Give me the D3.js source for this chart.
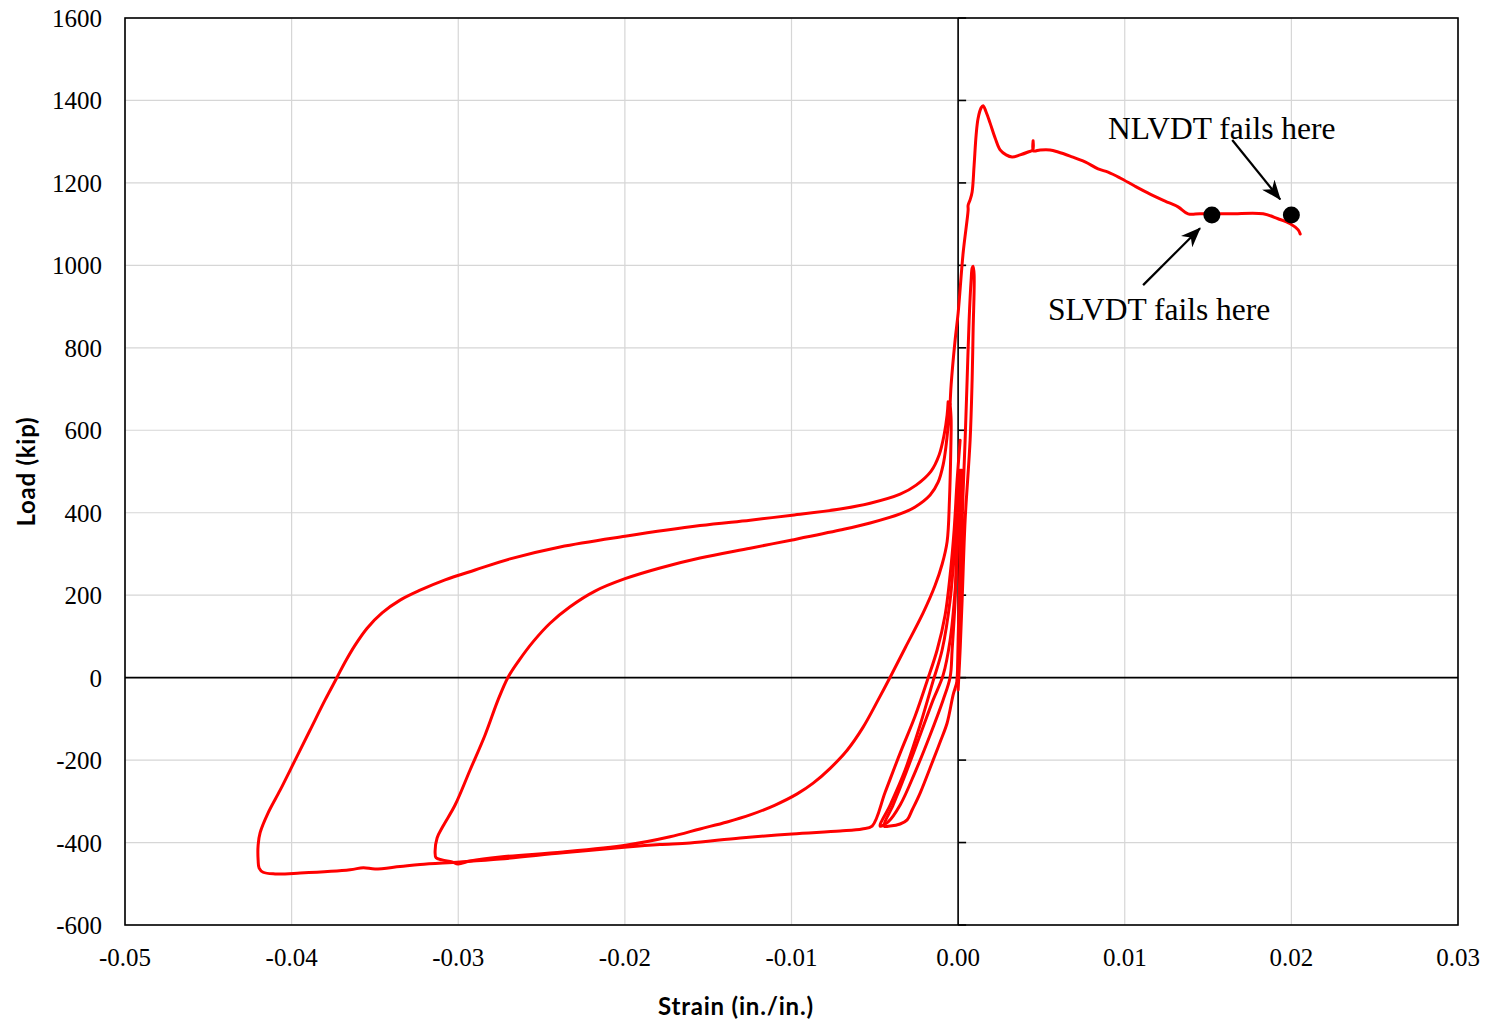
<!DOCTYPE html>
<html>
<head>
<meta charset="utf-8">
<script src="https://cdn.jsdelivr.net/npm/d3@7"></script>
<style>
  html, body { margin: 0; padding: 0; background: #fff; }
  svg { display: block; }
</style>
</head>
<body>
<svg id="chart" width="1489" height="1025"></svg>
<script>
// ---------------- DATA: [strain (in./in.), load (kip)] ----------------
const xTicks = [-0.05, -0.04, -0.03, -0.02, -0.01, 0.00, 0.01, 0.02, 0.03];
const yTicks = [-600, -400, -200, 0, 200, 400, 600, 800, 1000, 1200, 1400, 1600];

const loopA = [
  [-0.0006, 669], [-0.00066, 637], [-0.00084, 589], [-0.00114, 540], [-0.00162, 501],
  [-0.00252, 467], [-0.00348, 445], [-0.00528, 423], [-0.00708, 409], [-0.00996, 394],
  [-0.01248, 382], [-0.01549, 369], [-0.01999, 343], [-0.02389, 317], [-0.02689, 288],
  [-0.02899, 261], [-0.03079, 237], [-0.03229, 212], [-0.03349, 188], [-0.03457, 157],
  [-0.03547, 120], [-0.03619, 79], [-0.03679, 38], [-0.03727, 1], [-0.03799, -54],
  [-0.03889, -127], [-0.03979, -200], [-0.04069, -273], [-0.04141, -328], [-0.04189, -376],
  [-0.04201, -406], [-0.04201, -443], [-0.04195, -462], [-0.04171, -472], [-0.04099, -476],
  [-0.03949, -474], [-0.03649, -466], [-0.0357, -461], [-0.03499, -464], [-0.03349, -458],
  [-0.03229, -453], [-0.02989, -447], [-0.02749, -440], [-0.02371, -425], [-0.01987, -411],
  [-0.0179, -405], [-0.01609, -401], [-0.01308, -389], [-0.00996, -379], [-0.00708, -372],
  [-0.00576, -367], [-0.00516, -360], [-0.00438, -278], [-0.00348, -183], [-0.00258, -93],
  [-0.00186, -8], [-0.00126, 67], [-0.00078, 152], [-0.00048, 249], [-0.00024, 358],
  [-0.00006, 479], [0.00012, 576]
];

const loopB = [
  [-0.00054, 663], [-0.0006, 613], [-0.00072, 564], [-0.0009, 516], [-0.0012, 474],
  [-0.00168, 443], [-0.00258, 414], [-0.00348, 397], [-0.00528, 375], [-0.00708, 358],
  [-0.00996, 334], [-0.01248, 314], [-0.01549, 290], [-0.01789, 266], [-0.01999, 240],
  [-0.02179, 210], [-0.02329, 172], [-0.02449, 132], [-0.02549, 88], [-0.02635, 42],
  [-0.02701, 1], [-0.02761, -54], [-0.02839, -139], [-0.02929, -224], [-0.03019, -309],
  [-0.03091, -360], [-0.03127, -389], [-0.03139, -423], [-0.03133, -437], [-0.03097, -442],
  [-0.03037, -447], [-0.03001, -452], [-0.02929, -445], [-0.02749, -435], [-0.02371, -423],
  [-0.01987, -406], [-0.01729, -386], [-0.01549, -367], [-0.01386, -350], [-0.01248, -333],
  [-0.01098, -309], [-0.00966, -282], [-0.0087, -256], [-0.00768, -220], [-0.00666, -176],
  [-0.0057, -120], [-0.0048, -54], [-0.00408, 1], [-0.00318, 72], [-0.0021, 157],
  [-0.00138, 224], [-0.00096, 275], [-0.00066, 330], [-0.00052, 431], [-0.00044, 552],
  [-0.00042, 625], [-0.00048, 663]
];

const envelope = [
  [-0.00048, 663], [-0.00042, 710], [-0.00018, 819], [0.0, 884], [0.0003, 1030],
  [0.0006, 1134], [0.0006, 1146], [0.00072, 1159], [0.00084, 1178], [0.00096, 1243],
  [0.00108, 1316], [0.0012, 1357], [0.00138, 1382], [0.0015, 1387], [0.00168, 1372],
  [0.00192, 1345], [0.00222, 1309], [0.00252, 1280], [0.00288, 1268], [0.00324, 1263],
  [0.00372, 1268], [0.0042, 1275], [0.00448, 1280], [0.0045, 1302], [0.00452, 1278],
  [0.00492, 1280], [0.00552, 1280], [0.006, 1275], [0.00672, 1265], [0.00762, 1251],
  [0.0084, 1234], [0.009, 1226], [0.00972, 1212], [0.01062, 1192], [0.01152, 1173],
  [0.01242, 1156], [0.0132, 1142], [0.0138, 1125], [0.01452, 1125], [0.01632, 1125],
  [0.01831, 1125], [0.0192, 1113], [0.01993, 1101], [0.02041, 1086], [0.02053, 1076]
];

const narrowLoop = [
  [-0.00006, -6], [0.00012, 188], [0.00024, 382], [0.00042, 576], [0.00054, 722],
  [0.00066, 867], [0.00078, 964], [0.00084, 993], [0.0009, 998], [0.00096, 977],
  [0.0009, 843], [0.00084, 722], [0.00072, 576], [0.00042, 382], [0.00024, 188],
  [0.00012, 67], [0.0, -30]
];

const smallLoop1 = [
  [0.00024, 503], [0.00012, 285], [0.0, 91], [-0.00006, -6], [-0.0003, -42],
  [-0.00066, -110], [-0.00108, -156], [-0.0015, -200], [-0.00228, -280], [-0.00276, -321],
  [-0.00306, -345], [-0.00348, -355], [-0.00408, -360], [-0.00444, -360], [-0.0039, -309],
  [-0.00318, -236], [-0.00228, -139], [-0.0015, -54], [-0.0009, 6], [-0.00048, 91],
  [-0.00018, 212], [0.0, 358], [0.00018, 503]
];

const smallLoop2 = [
  [0.00012, 503], [-0.00006, 330], [-0.00018, 188], [-0.00036, 67], [-0.00048, 1],
  [-0.0009, -54], [-0.00168, -139], [-0.00258, -229], [-0.00348, -309], [-0.0042, -350],
  [-0.00468, -360], [-0.00408, -309], [-0.00318, -224], [-0.00228, -115], [-0.0015, -8],
  [-0.00096, 67], [-0.00048, 188], [-0.00018, 334], [0.00006, 503]
];

const failPoints = [[0.01523, 1122], [0.02, 1122]];
const labels = ["NLVDT fails here", "SLVDT fails here"];
const labelAnchors = [[0.009, 1306], [0.0054, 867]];
const arrows = [
  [[0.01645, 1304], [0.01933, 1160]],
  [[0.0111, 952], [0.01452, 1090]]
];

// ---------------- DRAWING ----------------
const svg = d3.select("#chart");
const M = { left: 125, right: 1458, top: 18, bottom: 925 };

const x = d3.scaleLinear().domain([-0.05, 0.03]).range([M.left, M.right]);
const y = d3.scaleLinear().domain([-600, 1600]).range([M.bottom, M.top]);

const serif = "'Liberation Serif', 'Times New Roman', serif";
const sans = "Lato, 'Open Sans', sans-serif";

// gridlines
const grid = svg.append("g");
grid.selectAll("line.vx").data(xTicks).enter().append("line")
  .attr("x1", d => x(d)).attr("x2", d => x(d))
  .attr("y1", M.top).attr("y2", M.bottom)
  .attr("stroke", "#d6d6d6").attr("stroke-width", 1.2);
grid.selectAll("line.hy").data(yTicks).enter().append("line")
  .attr("x1", M.left).attr("x2", M.right)
  .attr("y1", d => y(d)).attr("y2", d => y(d))
  .attr("stroke", "#d6d6d6").attr("stroke-width", 1.2);

// zero axes
svg.append("line").attr("x1", x(0)).attr("x2", x(0)).attr("y1", M.top).attr("y2", M.bottom)
  .attr("stroke", "#000").attr("stroke-width", 1.6);
svg.append("line").attr("x1", M.left).attr("x2", M.right).attr("y1", y(0)).attr("y2", y(0))
  .attr("stroke", "#000").attr("stroke-width", 1.6);
svg.append("g").selectAll("line").data(yTicks).enter().append("line")
  .attr("x1", x(0)).attr("x2", x(0) + 8)
  .attr("y1", d => y(d)).attr("y2", d => y(d))
  .attr("stroke", "#000").attr("stroke-width", 1.6);

// frame
svg.append("rect").attr("x", M.left).attr("y", M.top)
  .attr("width", M.right - M.left).attr("height", M.bottom - M.top)
  .attr("fill", "none").attr("stroke", "#000").attr("stroke-width", 1.6);

// tick labels
svg.append("g").selectAll("text").data(xTicks).enter().append("text")
  .attr("x", d => x(d)).attr("y", 966)
  .attr("text-anchor", "middle")
  .style("font-family", serif).style("font-size", "25px")
  .text(d => d.toFixed(2));
svg.append("g").selectAll("text").data(yTicks).enter().append("text")
  .attr("x", 102).attr("y", d => y(d) + 9)
  .attr("text-anchor", "end")
  .style("font-family", serif).style("font-size", "25px")
  .text(d => String(d));

// axis titles
svg.append("text").attr("x", 735.5).attr("y", 1015)
  .attr("text-anchor", "middle")
  .style("font-family", sans).style("font-weight", "bold").style("font-size", "24px")
  .attr("textLength", 155).attr("lengthAdjust", "spacing")
  .text("Strain (in./in.)");
svg.append("text")
  .attr("transform", "translate(35,472) rotate(-90)")
  .attr("text-anchor", "middle")
  .style("font-family", sans).style("font-weight", "bold").style("font-size", "24px")
  .attr("textLength", 109).attr("lengthAdjust", "spacing")
  .text("Load (kip)");

// data curves
const line = d3.line().x(d => x(d[0])).y(d => y(d[1])).curve(d3.curveCatmullRom.alpha(0.5));
const series = [loopA, loopB, smallLoop1, smallLoop2, narrowLoop, envelope];
svg.append("g").selectAll("path").data(series).enter().append("path")
  .attr("d", line)
  .attr("fill", "none").attr("stroke", "#ff0000").attr("stroke-width", 3)
  .attr("stroke-linejoin", "round").attr("stroke-linecap", "round");

// fail points
svg.append("g").selectAll("circle").data(failPoints).enter().append("circle")
  .attr("cx", d => x(d[0])).attr("cy", d => y(d[1])).attr("r", 8.5)
  .attr("fill", "#000");

// arrows
const defs = svg.append("defs");
defs.append("marker").attr("id", "arrowHead")
  .attr("viewBox", "0 0 20 16").attr("refX", 19).attr("refY", 8)
  .attr("markerWidth", 20).attr("markerHeight", 16)
  .attr("markerUnits", "userSpaceOnUse")
  .attr("orient", "auto")
  .append("path").attr("d", "M0,0 L20,8 L0,16 L6,8 Z").attr("fill", "#000");
svg.append("g").selectAll("line").data(arrows).enter().append("line")
  .attr("x1", d => x(d[0][0])).attr("y1", d => y(d[0][1]))
  .attr("x2", d => x(d[1][0])).attr("y2", d => y(d[1][1]))
  .attr("stroke", "#000").attr("stroke-width", 2.2)
  .attr("marker-end", "url(#arrowHead)");

// annotation labels
svg.append("g").selectAll("text").data(labels).enter().append("text")
  .attr("x", (d, i) => x(labelAnchors[i][0])).attr("y", (d, i) => y(labelAnchors[i][1]))
  .style("font-family", serif).style("font-size", "31.5px")
  .text(d => d);
</script>
</body>
</html>
